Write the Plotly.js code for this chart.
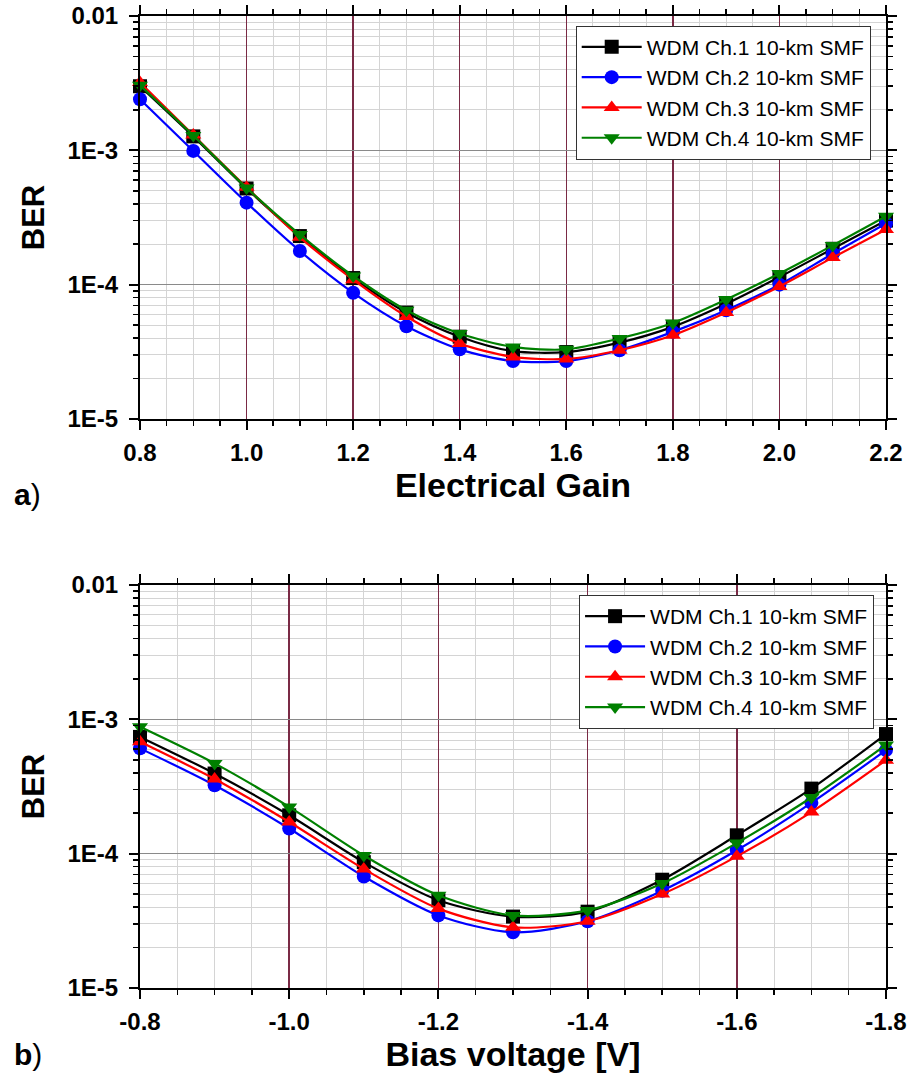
<!DOCTYPE html>
<html>
<head>
<meta charset="utf-8">
<script src="https://cdn.plot.ly/plotly-3.0.1.min.js"></script>
<style>html,body{margin:0;padding:0;background:#fff;}#chart{width:909px;height:1078px;}</style>
</head>
<body>
<div id="chart"></div>
<script>
// ---- Data ----
const seriesNames = ["WDM Ch.1 10-km SMF", "WDM Ch.2 10-km SMF", "WDM Ch.3 10-km SMF", "WDM Ch.4 10-km SMF"];

// (a) Electrical gain
const gain = [0.8, 0.9, 1.0, 1.1, 1.2, 1.3, 1.4, 1.5, 1.6, 1.7, 1.8, 1.9, 2.0, 2.1, 2.2];
const gainCh1 = [3.0e-3, 1.27e-3, 5.2e-4, 2.3e-4, 1.12e-4, 6.2e-5, 4.1e-5, 3.2e-5, 3.15e-5, 3.7e-5, 4.85e-5, 7.2e-5, 1.14e-4, 1.85e-4, 3.0e-4];
const gainCh2 = [2.4e-3, 0.99e-3, 4.08e-4, 1.78e-4, 8.7e-5, 4.9e-5, 3.3e-5, 2.7e-5, 2.7e-5, 3.25e-5, 4.45e-5, 6.45e-5, 1.0e-4, 1.7e-4, 2.85e-4];
const gainCh3 = [3.2e-3, 1.3e-3, 5.3e-4, 2.25e-4, 1.09e-4, 5.8e-5, 3.65e-5, 2.9e-5, 2.8e-5, 3.25e-5, 4.2e-5, 6.2e-5, 9.7e-5, 1.59e-4, 2.57e-4];
const gainCh4 = [3.05e-3, 1.29e-3, 5.25e-4, 2.36e-4, 1.16e-4, 6.45e-5, 4.33e-5, 3.44e-5, 3.3e-5, 3.98e-5, 5.19e-5, 7.75e-5, 1.21e-4, 1.96e-4, 3.23e-4];
const gainTickVals = [0.8, 1.0, 1.2, 1.4, 1.6, 1.8, 2.0, 2.2];
const gainTickText = ["0.8", "1.0", "1.2", "1.4", "1.6", "1.8", "2.0", "2.2"];

// (b) Bias voltage
const bias = [-0.8, -0.9, -1.0, -1.1, -1.2, -1.3, -1.4, -1.5, -1.6, -1.7, -1.8];
const biasCh1 = [7.4e-4, 3.95e-4, 1.93e-4, 8.65e-5, 4.5e-5, 3.4e-5, 3.7e-5, 6.4e-5, 1.37e-4, 3.05e-4, 7.77e-4];
const biasCh2 = [6.08e-4, 3.23e-4, 1.54e-4, 6.76e-5, 3.47e-5, 2.6e-5, 3.14e-5, 5.3e-5, 1.06e-4, 2.39e-4, 5.9e-4];
const biasCh3 = [6.8e-4, 3.6e-4, 1.72e-4, 7.7e-5, 3.9e-5, 2.83e-5, 3.14e-5, 5.0e-5, 9.55e-5, 2.04e-4, 4.97e-4];
const biasCh4 = [8.8e-4, 4.7e-4, 2.23e-4, 9.7e-5, 4.9e-5, 3.47e-5, 3.78e-5, 6.0e-5, 1.2e-4, 2.62e-4, 6.44e-4];
const biasTickVals = [-0.8, -1.0, -1.2, -1.4, -1.6, -1.8];
const biasTickText = ["-0.8", "-1.0", "-1.2", "-1.4", "-1.6", "-1.8"];

const yTickVals = [1e-5, 1e-4, 1e-3, 1e-2];
const yTickText = ["1E-5", "1E-4", "1E-3", "0.01"];

// ---- Styles ----
const colors = ["#000000", "#0000ff", "#ff0000", "#008000"];
const symbols = ["square", "circle", "triangle-up", "triangle-down"];
const FONT = "Liberation Sans, Arial, sans-serif";

const minorY = [];
for (let d = -5; d < -2; d++) for (let k = 2; k <= 9; k++) minorY.push(k * Math.pow(10, d));

function mk(x, y, i, xa, ya, leg) {
  return {
    x: x, y: y, xaxis: xa, yaxis: ya, legend: leg,
    name: seriesNames[i], type: "scatter", mode: "lines+markers",
    line: {color: colors[i], width: 2.2, shape: "spline", smoothing: 0.8},
    marker: {color: colors[i], symbol: symbols[i], size: 14},
    cliponaxis: false
  };
}

const traces = [
  mk(gain, gainCh1, 0, "x", "y", "legend"),
  mk(gain, gainCh2, 1, "x", "y", "legend"),
  mk(gain, gainCh3, 2, "x", "y", "legend"),
  mk(gain, gainCh4, 3, "x", "y", "legend"),
  mk(bias, biasCh1, 0, "x2", "y2", "legend2"),
  mk(bias, biasCh2, 1, "x2", "y2", "legend2"),
  mk(bias, biasCh3, 2, "x2", "y2", "legend2"),
  mk(bias, biasCh4, 3, "x2", "y2", "legend2")
];

const tickFont = {family: FONT, size: 24, color: "#000", weight: "bold"};

function xAxis(range, tick0, tv, tt, anchor, ttl) {
  return {
    type: "linear", range: range, tickmode: "array", tickvals: tv, ticktext: tt,
    ticks: "outside", ticklen: 9, tickwidth: 2, tickcolor: "#000",
    showline: true, linecolor: "#000", linewidth: 2, mirror: "allticks",
    showgrid: true, gridcolor: "#7a2a45", gridwidth: 1.5,
    zeroline: false, anchor: anchor, automargin: false,
    tickfont: tickFont, ticklabelstandoff: 2,
    minor: {tickmode: "linear", dtick: 0.05, tick0: tick0, ticks: "outside", ticklen: 5, tickwidth: 1.5, tickcolor: "#000",
            showgrid: true, gridcolor: "#d4d4d4", gridwidth: 1},
    title: {text: "<b>" + ttl + "</b>", font: {family: FONT, size: 34, color: "#000"}, standoff: 4}
  };
}

function yAxis(domain, anchor) {
  return {
    type: "log", range: [-5, -2], domain: domain, anchor: anchor,
    tickmode: "array", tickvals: yTickVals, ticktext: yTickText,
    ticks: "outside", ticklen: 9, tickwidth: 2, tickcolor: "#000",
    showline: true, linecolor: "#000", linewidth: 2, mirror: "allticks",
    showgrid: true, gridcolor: "#8a8a8a", gridwidth: 1.5,
    zeroline: false, automargin: false,
    tickfont: tickFont, ticklabelstandoff: 6,
    minor: {tickmode: "array", tickvals: minorY, ticks: "outside", ticklen: 5, tickwidth: 1.5, tickcolor: "#000",
            showgrid: true, gridcolor: "#d4d4d4", gridwidth: 1},
    title: {text: "<b>BER</b>", font: {family: FONT, size: 31, color: "#000"}, standoff: 14}
  };
}

const legendBase = {
  xanchor: "right", yanchor: "top", bgcolor: "#ffffff", bordercolor: "#333333", borderwidth: 1,
  font: {family: FONT, size: 21, color: "#000"}, tracegroupgap: 0, itemwidth: 60
};

const layout = {
  width: 909, height: 1078,
  margin: {l: 140, r: 23, t: 16, b: 90},
  paper_bgcolor: "#ffffff", plot_bgcolor: "#ffffff",
  font: {family: FONT, color: "#000"},
  showlegend: true,
  xaxis: xAxis([0.8, 2.2], 0.8, gainTickVals, gainTickText, "y", "Electrical Gain"),
  yaxis: yAxis([0.5854, 1], "x"),
  xaxis2: xAxis([-0.8, -1.8], -0.8, biasTickVals, biasTickText, "y2", "Bias voltage [V]"),
  yaxis2: yAxis([0, 0.4146], "x2"),
  legend: Object.assign({}, legendBase, {x: 0.9795, y: 0.99}),
  legend2: Object.assign({}, legendBase, {x: 0.984, y: 0.4043}),
  annotations: [
    {xref: "paper", yref: "paper", x: -0.1716, y: 0.5082, xanchor: "left", yanchor: "middle",
     text: "<b>a</b>)", showarrow: false, font: {family: FONT, size: 30, color: "#000"}},
    {xref: "paper", yref: "paper", x: -0.1716, y: -0.0689, xanchor: "left", yanchor: "middle",
     text: "<b>b</b>)", showarrow: false, font: {family: FONT, size: 30, color: "#000"}}
  ]
};

Plotly.newPlot("chart", traces, layout, {displayModeBar: false, staticPlot: true});
</script>
</body>
</html>
